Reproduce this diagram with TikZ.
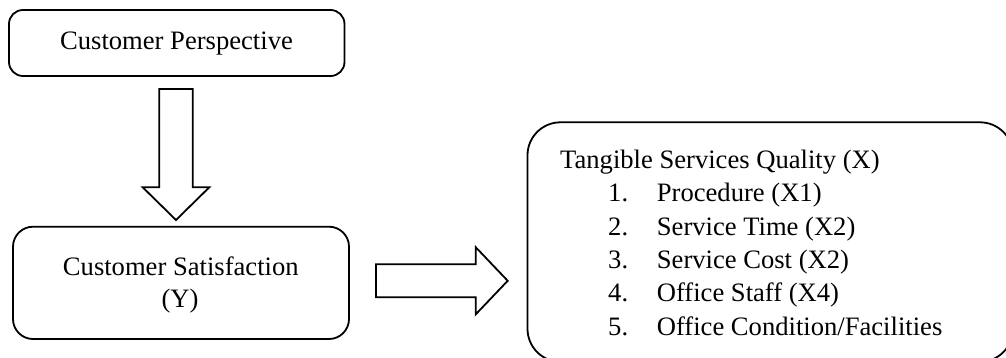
\documentclass[tikz,border=0pt]{standalone}
\usepackage{fontspec}
\setmainfont{Liberation Serif}
\begin{document}
\begin{tikzpicture}[x=1pt,y=-1pt,
  framebox/.style={draw=black, line width=1.8pt, fill=white, inner sep=0pt},
  blockarrow/.style={draw=black, line width=1.8pt, fill=white, miter limit=10},
  txt/.style={font=\fontsize{26.6}{33}\selectfont, inner sep=0pt, anchor=base},
  ltxt/.style={txt, anchor=base west}]
\useasboundingbox (0,0) rectangle (1006,358);
\clip (0,0) rectangle (1006,358);

% boxes
\node[framebox, rounded corners=14pt, minimum width=335.5pt, minimum height=66pt]
  (persp) at (176.75,43) {};
\node[framebox, rounded corners=20pt, minimum width=336pt, minimum height=112.3pt]
  (satis) at (181,282.85) {};
\node[framebox, rounded corners=33pt, minimum width=485.5pt, minimum height=239.5pt]
  (quality) at (770.25,242.05) {};

% labels
\node[txt] (perspText) at (176.5,49.3) {Customer Perspective};
\node[txt] (satisText1) at (180.8,275) {Customer Satisfaction};
\node[txt] (satisText2) at (180,307.7) {(Y)};

\node[ltxt] (qTitle) at (560,168.5) {Tangible Services Quality (X)};
\foreach \n/\item [count=\i] in {1/{Procedure (X1)}, 2/{Service Time (X2)},
    3/{Service Cost (X2)}, 4/{Office Staff (X4)}, 5/{Office Condition/Facilities}}{
  \node[ltxt] (num\i) at (608,168.5+33.3*\i) {\n.};
  \node[ltxt] (item\i) at (656.7,168.5+33.3*\i) {\item};
}

% block arrows between boxes
\draw[blockarrow]
  (159.3,89) -- (192.7,89) -- (192.7,187.3) -- (209.3,187.3) -- (176,220)
  -- (142.7,187.3) -- (159.3,187.3) -- cycle;
\draw[blockarrow]
  (376,264.3) -- (475.7,264.3) -- (475.7,247.2) -- (507.7,280.8)
  -- (475.7,314.4) -- (475.7,297.3) -- (376,297.3) -- cycle;
\end{tikzpicture}
\end{document}
